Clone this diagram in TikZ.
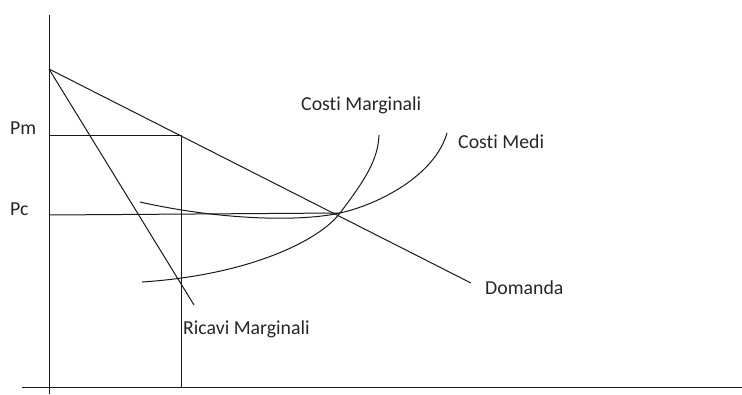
\documentclass[tikz,border=0pt]{standalone}
\usepackage{fontspec}
\setmainfont{Carlito}[Ligatures=CommonOff]
\usepackage{tikz}

\begin{document}
\begin{tikzpicture}[x=1pt,y=-1pt,
line/.style={draw=black!90, line width=1pt},
lab/.style={anchor=base west, inner sep=0pt, font=\fontsize{19.8}{23}\selectfont, text=black!85}]
\useasboundingbox (0,0) rectangle (742,394);
\coordinate (ytop) at (49,15);
\coordinate (ybot) at (49,394);
\coordinate (xleft) at (22,387);
\coordinate (xright) at (742,387);
\coordinate (A) at (49,69);
\coordinate (M) at (181,135);
\coordinate (Mq) at (181,387);
\coordinate (PmL) at (49,135);
\coordinate (PcL) at (49,215);
\coordinate (E) at (340,213);
\coordinate (Dend) at (471,283);
\coordinate (RMend) at (194,305);
\draw[line] (ytop) -- (ybot);
\draw[line] (xleft) -- (xright);
\draw[line] (A) -- (Dend);
\draw[line] (A) -- (RMend);
\draw[line] (PmL) -- (M) -- (Mq);
\draw[line] (PcL) -- (E);
\draw[line] (140,202) .. controls (220,220) and (300,222) .. (E)
  .. controls (380,204) and (435,175) .. (447,133);
\draw[line] (142,282) .. controls (250,275) and (320,240) .. (E)
  .. controls (365,180) and (378,160) .. (379,135);
\node[lab] (pm) at (10,134) {Pm};
\node[lab] (pc) at (10,215) {Pc};
\node[lab] (cmg) at (301,110) {Costi Marginali};
\node[lab] (cme) at (458,148) {Costi Medi};
\node[lab] (dom) at (485,294) {Domanda};
\node[lab] (rmg) at (183,334) {Ricavi Marginali};
\end{tikzpicture}
\end{document}
